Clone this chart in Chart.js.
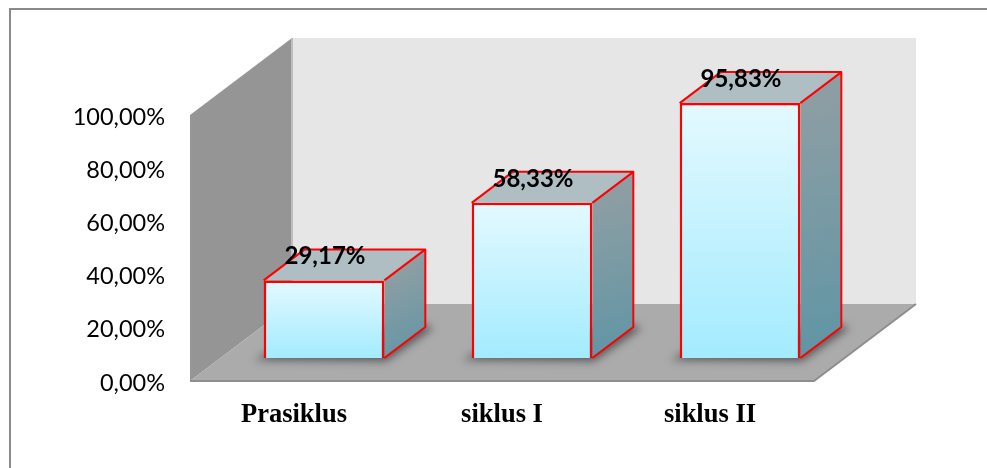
<!DOCTYPE html>
<html>
<head>
<meta charset="utf-8">
<title>Prasiklus, siklus I, siklus II</title>
<script src="https://cdn.jsdelivr.net/npm/chart.js@4"></script>
<style>
    html, body { margin: 0; padding: 0; background: #fff; }
    #wrap { position: relative; width: 987px; height: 468px; overflow: hidden; }
    #frame { position: absolute; left: 9px; top: 8px; right: -5px; bottom: -5px; border: 2px solid #8a8a8a; }
    canvas { position: absolute; left: 0; top: 0; }
</style>
</head>
<body>
<div id="wrap">
    <div id="frame"></div>
    <canvas id="chart" width="987" height="468"></canvas>
</div>
<script>
// Chart data
const categories = ['Prasiklus', 'siklus I', 'siklus II'];
const percentValues = [29.17, 58.33, 95.83];
const valueLabels = ['29,17%', '58,33%', '95,83%'];
const yTickValues = [0, 20, 40, 60, 80, 100];

// 3D look: bars stand on a plane between the front and the back of the floor
const FRONT_DX = 30, FRONT_DY = 23;   // front edge of floor -> front of bars
const DEPTH_DX = 41, DEPTH_DY = 31;   // front of bars -> back of bars
const BACK_DX = 72, BACK_DY = 54;     // front of bars -> back wall

function fillPoly(ctx, pts, fill) {
    ctx.beginPath();
    pts.forEach((p, i) => i ? ctx.lineTo(p[0], p[1]) : ctx.moveTo(p[0], p[1]));
    ctx.closePath();
    ctx.fillStyle = fill;
    ctx.fill();
}

// Walls and floor, placed from the scales
const wallsPlugin = {
    id: 'walls',
    beforeDraw(chart) {
        const { ctx, scales: { x, y } } = chart;
        const left = x.left, right = x.right;
        const base = y.getPixelForValue(0), top = y.getPixelForValue(100);
        const fl = left - FRONT_DX, fr = right - FRONT_DX, fb = base + FRONT_DY, ft = top + FRONT_DY;
        const bl = left + BACK_DX, br = right + BACK_DX, bb = base - BACK_DY, bt = top - BACK_DY;

        ctx.save();
        fillPoly(ctx, [[bl, bt], [br, bt], [br, bb], [bl, bb]], '#e6e6e6');
        fillPoly(ctx, [[fl, ft], [bl, bt], [bl, bb], [fl, fb]], '#959595');
        fillPoly(ctx, [[fl, fb], [bl, bb], [br, bb], [fr, fb]], '#ababab');
        // thin darker edges of the plates
        ctx.lineWidth = 2;
        ctx.strokeStyle = '#8e8e8e';
        ctx.beginPath();
        ctx.moveTo(fl, fb);
        ctx.lineTo(fr, fb);
        ctx.lineTo(br, bb);
        ctx.stroke();
        ctx.strokeStyle = '#bdbdbd';
        ctx.beginPath();
        ctx.moveTo(bl, bt);
        ctx.lineTo(bl, bb);
        ctx.stroke();
        ctx.restore();
    }
};

// Shadow, side and top of each bar; the front is the bar element itself
const barSidesPlugin = {
    id: 'barSides',
    beforeDatasetsDraw(chart) {
        const { ctx } = chart;
        const bars = chart.getDatasetMeta(0).data;
        bars.forEach(bar => {
            const x1 = bar.x - bar.width / 2, x2 = bar.x + bar.width / 2;
            const t = bar.y, b = bar.base;
            const dx = DEPTH_DX, dy = DEPTH_DY;

            ctx.save();
            ctx.filter = 'blur(4px)';
            fillPoly(ctx, [[x1 - 9, b + 2], [x2 + 2, b + 3], [x2 + dx + 8, b - dy + 1], [x2 + dx - 8, b - dy - 4], [x1 + 6, b - 6]], 'rgba(60,60,60,0.75)');
            ctx.restore();

            const sideGrad = ctx.createLinearGradient(x2, t, x2 + dx, b);
            sideGrad.addColorStop(0, '#8c9ea3');
            sideGrad.addColorStop(1, '#5f95a5');

            ctx.save();
            fillPoly(ctx, [[x2, t], [x2 + dx, t - dy], [x2 + dx, b - dy], [x2, b]], sideGrad);
            fillPoly(ctx, [[x1, t], [x1 + dx, t - dy], [x2 + dx, t - dy], [x2, t]], '#aebec3');
            ctx.strokeStyle = '#ff0000';
            ctx.lineWidth = 2;
            ctx.lineJoin = 'round';
            ctx.beginPath();
            ctx.moveTo(x1, t);
            ctx.lineTo(x1 + dx, t - dy);
            ctx.lineTo(x2 + dx, t - dy);
            ctx.lineTo(x2 + dx, b - dy);
            ctx.lineTo(x2, b);
            ctx.moveTo(x2, t);
            ctx.lineTo(x2 + dx, t - dy);
            ctx.stroke();
            ctx.restore();
        });
    },
    afterDatasetsDraw(chart) {
        const { ctx } = chart;
        chart.getDatasetMeta(0).data.forEach((bar, i) => {
            ctx.save();
            ctx.font = 'bold 24px Lato';
            ctx.fillStyle = '#000';
            ctx.textAlign = 'center';
            ctx.textBaseline = 'middle';
            ctx.fillText(valueLabels[i], bar.x + 1, bar.y - 24);
            ctx.restore();
        });
    }
};

function frontGradient(context) {
    const chart = context.chart;
    if (!chart.chartArea || context.parsed === undefined) return '#c4f2ff';
    const yScale = chart.scales.y;
    const g = chart.ctx.createLinearGradient(0, yScale.getPixelForValue(context.parsed.y), 0, yScale.getPixelForValue(0));
    g.addColorStop(0, '#e4f9ff');
    g.addColorStop(1, '#a3ebff');
    return g;
}

new Chart(document.getElementById('chart'), {
    type: 'bar',
    data: {
        labels: categories,
        datasets: [{
            data: percentValues,
            backgroundColor: frontGradient,
            borderColor: '#ff0000',
            borderWidth: 2.5,
            categoryPercentage: 0.58,
            barPercentage: 1
        }]
    },
    options: {
        responsive: false,
        animation: false,
        layout: { padding: { left: 0, top: 92, right: 143, bottom: 0 } },
        plugins: {
            legend: { display: false },
            title: { display: false },
            tooltip: { enabled: false }
        },
        scales: {
            x: {
                afterFit(scale) { scale.height = 110; },
                grid: { display: false, drawTicks: false },
                border: { display: false },
                ticks: {
                    color: '#000',
                    padding: 41,
                    labelOffset: -FRONT_DX,
                    maxRotation: 0,
                    font: { family: '"Liberation Serif"', size: 26.5, weight: 'bold' }
                }
            },
            y: {
                min: 0,
                max: 100,
                afterFit(scale) { scale.width = 220; },
                afterBuildTicks(scale) { scale.ticks = yTickValues.map(v => ({ value: v })); },
                grid: { display: false, drawTicks: false },
                border: { display: false },
                ticks: {
                    color: '#000',
                    padding: 55,
                    labelOffset: FRONT_DY + 2,
                    font: { family: 'Lato', size: 23.5 },
                    callback: value => value.toFixed(2).replace('.', ',') + '%'
                }
            }
        }
    },
    plugins: [wallsPlugin, barSidesPlugin]
});
</script>
</body>
</html>
